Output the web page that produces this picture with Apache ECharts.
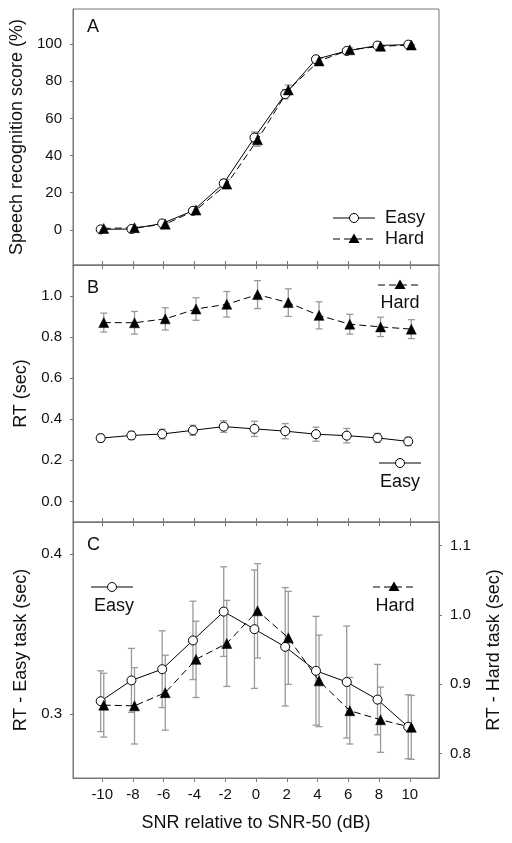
<!DOCTYPE html>
<html>
<head>
<meta charset="utf-8">
<script src="https://cdn.jsdelivr.net/npm/echarts@6/dist/echarts.min.js"></script>
<style>html,body{margin:0;padding:0;background:#fff}#c{width:512px;height:843px}</style>
</head>
<body>
<div id="c"></div>
<script>
// ---- data ----
const snr = [-10, -8, -6, -4, -2, 0, 2, 4, 6, 8, 10];
const scoreEasy = [0.2, 0.4, 3.4, 10.2, 25.0, 49.7, 73.1, 91.9, 96.4, 99.3, 99.8];
const scoreHard = [0.7, 1.1, 3.0, 10.6, 24.6, 48.5, 75.4, 91.0, 97.0, 98.9, 99.6];
const scoreEasyErr = [0.3, 0.5, 0.8, 1.2, 2.2, 3.0, 2.5, 1.5, 1.0, 0.6, 0.4];
const scoreHardErr = [0.3, 0.5, 0.8, 1.3, 2.4, 3.5, 2.6, 1.5, 1.0, 0.6, 0.4];
const rtEasy = [0.308, 0.321, 0.328, 0.346, 0.364, 0.353, 0.342, 0.327, 0.320, 0.309, 0.292];
const rtEasyErr = [0.019, 0.020, 0.024, 0.0245, 0.028, 0.037, 0.037, 0.034, 0.035, 0.022, 0.020];
const rtHard = [0.870, 0.869, 0.888, 0.936, 0.959, 1.006, 0.967, 0.905, 0.862, 0.849, 0.838];
const rtHardErr = [0.046, 0.055, 0.054, 0.055, 0.062, 0.068, 0.067, 0.066, 0.048, 0.047, 0.046];
const ticksScore = [0, 20, 40, 60, 80, 100];
const ticksRT = [0, 0.2, 0.4, 0.6, 0.8, 1.0];
const ticksEasyC = [0.3, 0.4];
const ticksHardC = [0.8, 0.9, 1.0, 1.1];

// ---- styling ----
const FONT = 'Liberation Sans, Arial, sans-serif';
const AX = '#777';
const ERR = '#9a9a9a';
const DODGE_E = -0.1, DODGE_H = 0.1;

const chart = echarts.init(document.getElementById('c'), null, {renderer: 'canvas'});

function xAx(grid, pos, tickInside, showLabels, extra) {
  return Object.assign({
    type: 'value', gridIndex: grid, position: pos, min: -11.9, max: 11.9,
    axisLine: {show: true, onZero: false, lineStyle: {color: AX, width: 1}},
    axisTick: {show: true, inside: tickInside, length: 4, customValues: snr, lineStyle: {color: AX}},
    axisLabel: {show: showLabels, customValues: snr, fontSize: 15, fontFamily: FONT, color: '#111', margin: 9},
    splitLine: {show: false}
  }, extra || {});
}
function yAx(grid, pos, min, max, ticks, fmt, name, gap, showTick) {
  return {
    type: 'value', gridIndex: grid, position: pos, min: min, max: max,
    axisLine: {show: true, onZero: false, lineStyle: {color: AX, width: 1}},
    axisTick: {show: true, inside: false, length: 3, customValues: ticks, lineStyle: {color: AX}},
    axisLabel: {show: true, customValues: ticks, formatter: fmt, fontSize: 15, fontFamily: FONT, color: '#111', margin: 11},
    splitLine: {show: false},
    name: name, nameLocation: 'middle', nameGap: gap, nameRotate: 90,
    nameTextStyle: {fontSize: 18, fontFamily: FONT, color: '#111'}
  };
}
function lineSeries(xi, yi, vals, hard) {
  const off = hard ? DODGE_H : DODGE_E;
  return {
    type: 'line', xAxisIndex: xi, yAxisIndex: yi, z: 5,
    data: snr.map((x, i) => [x + off, vals[i]]),
    symbol: hard ? 'triangle' : 'circle', symbolSize: hard ? 10 : 9,
    itemStyle: hard ? {color: '#000', borderColor: '#000', borderWidth: 0.5} : {color: '#fff', borderColor: '#000', borderWidth: 1},
    lineStyle: {color: '#000', width: 1, type: hard ? [7, 4] : 'solid'},
    emphasis: {disabled: true}
  };
}
function errSeries(xi, yi, vals, errs, hard) {
  const off = hard ? DODGE_H : DODGE_E;
  return {
    type: 'custom', xAxisIndex: xi, yAxisIndex: yi, z: 2,
    data: snr.map((x, i) => [x + off, vals[i] - errs[i], vals[i] + errs[i]]),
    encode: {x: 0, y: [1, 2]},
    renderItem: function (params, api) {
      const x = api.value(0);
      const p1 = api.coord([x, api.value(1)]);
      const p2 = api.coord([x, api.value(2)]);
      const w = 3.5;
      const st = {stroke: ERR, lineWidth: 1.3};
      return {type: 'group', children: [
        {type: 'line', shape: {x1: p1[0], y1: p1[1], x2: p2[0], y2: p2[1]}, style: st},
        {type: 'line', shape: {x1: p1[0] - w, y1: p1[1], x2: p1[0] + w, y2: p1[1]}, style: st},
        {type: 'line', shape: {x1: p2[0] - w, y1: p2[1], x2: p2[0] + w, y2: p2[1]}, style: st}
      ]};
    }
  };
}
const f1 = v => v.toFixed(1);
const f0 = v => String(v);

// legend keys (graphic)
function keyLine(x1, x2, y, dashed) {
  return {type: 'line', shape: {x1: x1, y1: y, x2: x2, y2: y}, style: {stroke: '#000', lineWidth: 1, lineDash: dashed ? [7, 4] : null}, z: 10};
}
function keyCircle(x, y) {
  return {type: 'circle', shape: {cx: x, cy: y, r: 4.5}, style: {fill: '#fff', stroke: '#000', lineWidth: 1}, z: 11};
}
function keyTri(x, y) {
  return {type: 'polygon', shape: {points: [[x, y - 5.5], [x + 5.5, y + 4], [x - 5.5, y + 4]]}, style: {fill: '#000'}, z: 11};
}
function txt(s, x, y, align) {
  return {type: 'text', x: x, y: y, style: {text: s, font: '18px ' + FONT, fill: '#111', align: align, verticalAlign: 'middle'}, z: 12};
}

const option = {
  animation: false,
  backgroundColor: '#fff',
  grid: [
    {left: 73, top: 9, width: 366, height: 256, show: true, borderColor: AX, borderWidth: 1},
    {left: 73, top: 265, width: 366, height: 257, show: true, borderColor: AX, borderWidth: 1},
    {left: 73, top: 522, width: 366, height: 256, show: true, borderColor: AX, borderWidth: 1}
  ],
  xAxis: [
    xAx(0, 'bottom', true, false),
    xAx(1, 'bottom', true, false),
    xAx(2, 'bottom', false, true, {name: 'SNR relative to SNR-50 (dB)', nameLocation: 'middle', nameGap: 36,
      nameTextStyle: {fontSize: 18, fontFamily: FONT, color: '#111'}}),
    xAx(1, 'top', true, false),
    xAx(2, 'top', true, false)
  ],
  yAxis: [
    yAx(0, 'left', -19, 119, ticksScore, f0, 'Speech recognition score (%)', 47),
    yAx(1, 'left', -0.1, 1.15, ticksRT, f1, 'RT (sec)', 43),
    yAx(2, 'left', 0.26, 0.42, ticksEasyC, f1, 'RT - Easy task (sec)', 43),
    yAx(2, 'right', 0.765, 1.134, ticksHardC, f1, 'RT - Hard task (sec)', 46)
  ],
  series: [
    errSeries(0, 0, scoreEasy, scoreEasyErr, false),
    errSeries(0, 0, scoreHard, scoreHardErr, true),
    lineSeries(0, 0, scoreEasy, false),
    lineSeries(0, 0, scoreHard, true),
    errSeries(1, 1, rtEasy, rtEasyErr, false),
    errSeries(1, 1, rtHard, rtHardErr, true),
    lineSeries(1, 1, rtEasy, false),
    lineSeries(1, 1, rtHard, true),
    errSeries(2, 2, rtEasy, rtEasyErr, false),
    errSeries(2, 3, rtHard, rtHardErr, true),
    lineSeries(2, 2, rtEasy, false),
    lineSeries(2, 3, rtHard, true)
  ],
  graphic: [
    txt('A', 87, 27, 'left'),
    txt('B', 87, 288, 'left'),
    txt('C', 87, 545, 'left'),
    // panel A legend
    keyLine(333, 375, 218, false), keyCircle(354, 218), txt('Easy', 385, 218, 'left'),
    keyLine(333, 375, 239, true), keyTri(354, 239), txt('Hard', 385, 239, 'left'),
    // panel B legend
    keyLine(378, 421, 285, true), keyTri(400, 285), txt('Hard', 400, 303, 'center'),
    keyLine(379, 421, 463, false), keyCircle(400, 463), txt('Easy', 400, 482, 'center'),
    // panel C legend
    keyLine(91, 133, 587, false), keyCircle(112, 587), txt('Easy', 114, 606, 'center'),
    keyLine(373, 416, 587, true), keyTri(394, 587), txt('Hard', 395, 606, 'center')
  ]
};
chart.setOption(option);
</script>
</body>
</html>
